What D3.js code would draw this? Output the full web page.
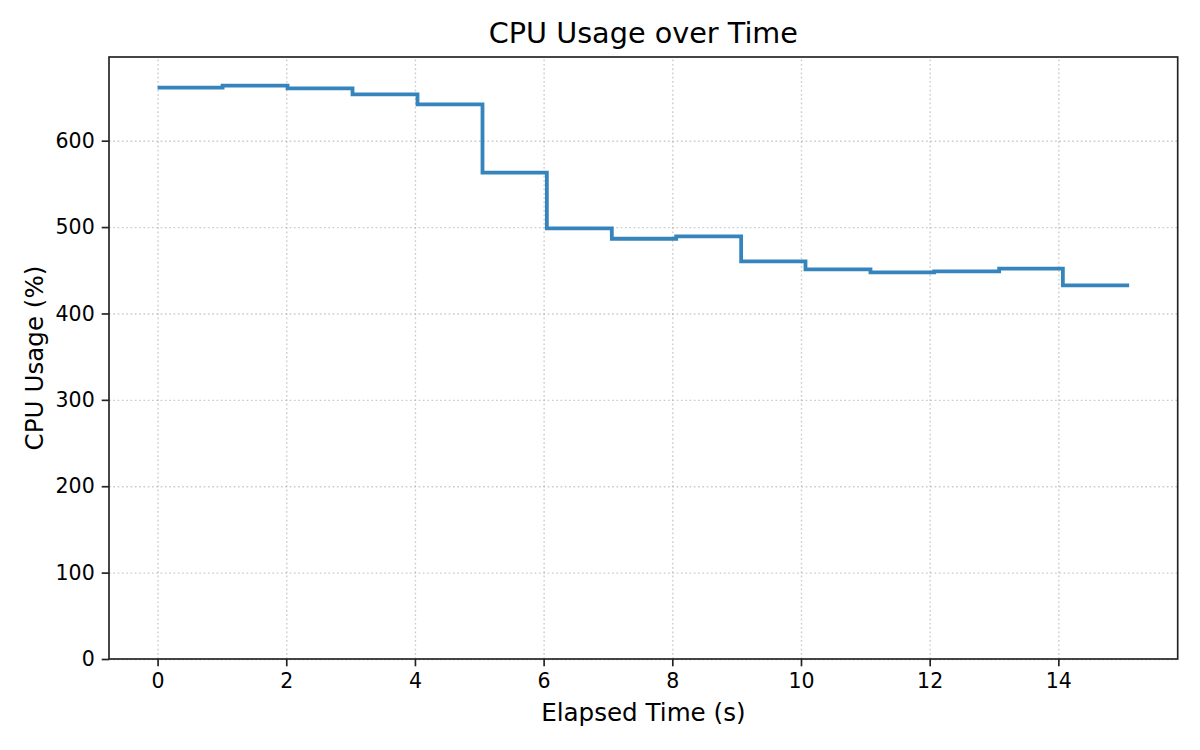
<!DOCTYPE html>
<html>
<head>
<meta charset="utf-8">
<script src="https://cdn.jsdelivr.net/npm/d3@7"></script>
<style>
  html, body { margin: 0; padding: 0; background: #fff; }
  svg { display: block; font-family: "DejaVu Sans", sans-serif; }
  .domain { display: none; }
</style>
</head>
<body>
<svg id="svg" width="1200" height="750"></svg>
<script>
// sampled CPU usage, held until the next sample (steps-post)
const elapsed = [0, 1.01, 2.02, 3.03, 4.04, 5.05, 6.05, 7.06, 8.06, 9.07, 10.07, 11.08, 12.07, 13.08, 14.07, 15.1];
const cpuUsage = [661.5, 663.7, 660.5, 653.6, 642, 563, 498.4, 486.5, 489.2, 460.2, 451, 447.5, 448.7, 452, 432.4, 432.4];
const xTicks = [0, 2, 4, 6, 8, 10, 12, 14];
const yTicks = [0, 100, 200, 300, 400, 500, 600];

const svg = d3.select("#svg");
const plotL = 109, plotR = 1177.7, plotT = 57, plotB = 659;

// matplotlib-like margins: 5% on x, top at max * 1.05
const xMax = d3.max(elapsed), xPad = xMax * 0.05;
const x = d3.scaleLinear().domain([-xPad, xMax + xPad]).range([plotL, plotR]);
const y = d3.scaleLinear().domain([0, d3.max(cpuUsage) * 1.05]).range([plotB, plotT]);

function styleGrid(g) {
  g.selectAll(".tick line")
    .attr("stroke", "#b0b0b0").attr("stroke-opacity", 0.65)
    .attr("stroke-width", 1.4).attr("stroke-dasharray", "1.7,2.6");
}

// grid
svg.append("g")
  .attr("transform", `translate(0, ${plotB})`)
  .call(d3.axisBottom(x).tickValues(xTicks).tickSize(-(plotB - plotT)).tickFormat(""))
  .call(styleGrid);
svg.append("g")
  .attr("transform", `translate(${plotL}, 0)`)
  .call(d3.axisLeft(y).tickValues(yTicks).tickSize(-(plotR - plotL)).tickFormat(""))
  .call(styleGrid);

// the step line
const pts = elapsed.map((t, i) => [t, cpuUsage[i]]);
svg.append("path")
  .datum(pts)
  .attr("fill", "none")
  .attr("stroke", "#1f77b4")
  .attr("stroke-opacity", 0.9)
  .attr("stroke-width", 3.8)
  .attr("d", d3.line().x(d => x(d[0])).y(d => y(d[1])).curve(d3.curveStepAfter));

// axes
const xAxis = svg.append("g")
  .attr("transform", `translate(0, ${plotB})`)
  .call(d3.axisBottom(x).tickValues(xTicks).tickSize(7.3).tickPadding(7).tickFormat(d3.format("d")));
const yAxis = svg.append("g")
  .attr("transform", `translate(${plotL}, 0)`)
  .call(d3.axisLeft(y).tickValues(yTicks).tickSize(7.3).tickPadding(7).tickFormat(d3.format("d")));
[xAxis, yAxis].forEach(a => {
  a.selectAll(".tick line").attr("stroke", "#222").attr("stroke-width", 1.67);
  a.selectAll(".tick text").attr("fill", "#000").style("font-size", "20.5px")
    .style("font-family", "DejaVu Sans");
});

// frame
svg.append("rect")
  .attr("x", plotL).attr("y", plotT)
  .attr("width", plotR - plotL).attr("height", plotB - plotT)
  .attr("fill", "none").attr("stroke", "#222").attr("stroke-width", 1.67);

// labels
svg.append("text")
  .attr("x", (plotL + plotR) / 2).attr("y", 42.5)
  .attr("text-anchor", "middle").style("font-size", "28.7px")
  .text("CPU Usage over Time");
svg.append("text")
  .attr("x", (plotL + plotR) / 2).attr("y", 721)
  .attr("text-anchor", "middle").style("font-size", "24.6px")
  .text("Elapsed Time (s)");
svg.append("text")
  .attr("transform", `translate(43, ${(plotT + plotB) / 2}) rotate(-90)`)
  .attr("text-anchor", "middle").style("font-size", "24.6px")
  .text("CPU Usage (%)");
</script>
</body>
</html>
